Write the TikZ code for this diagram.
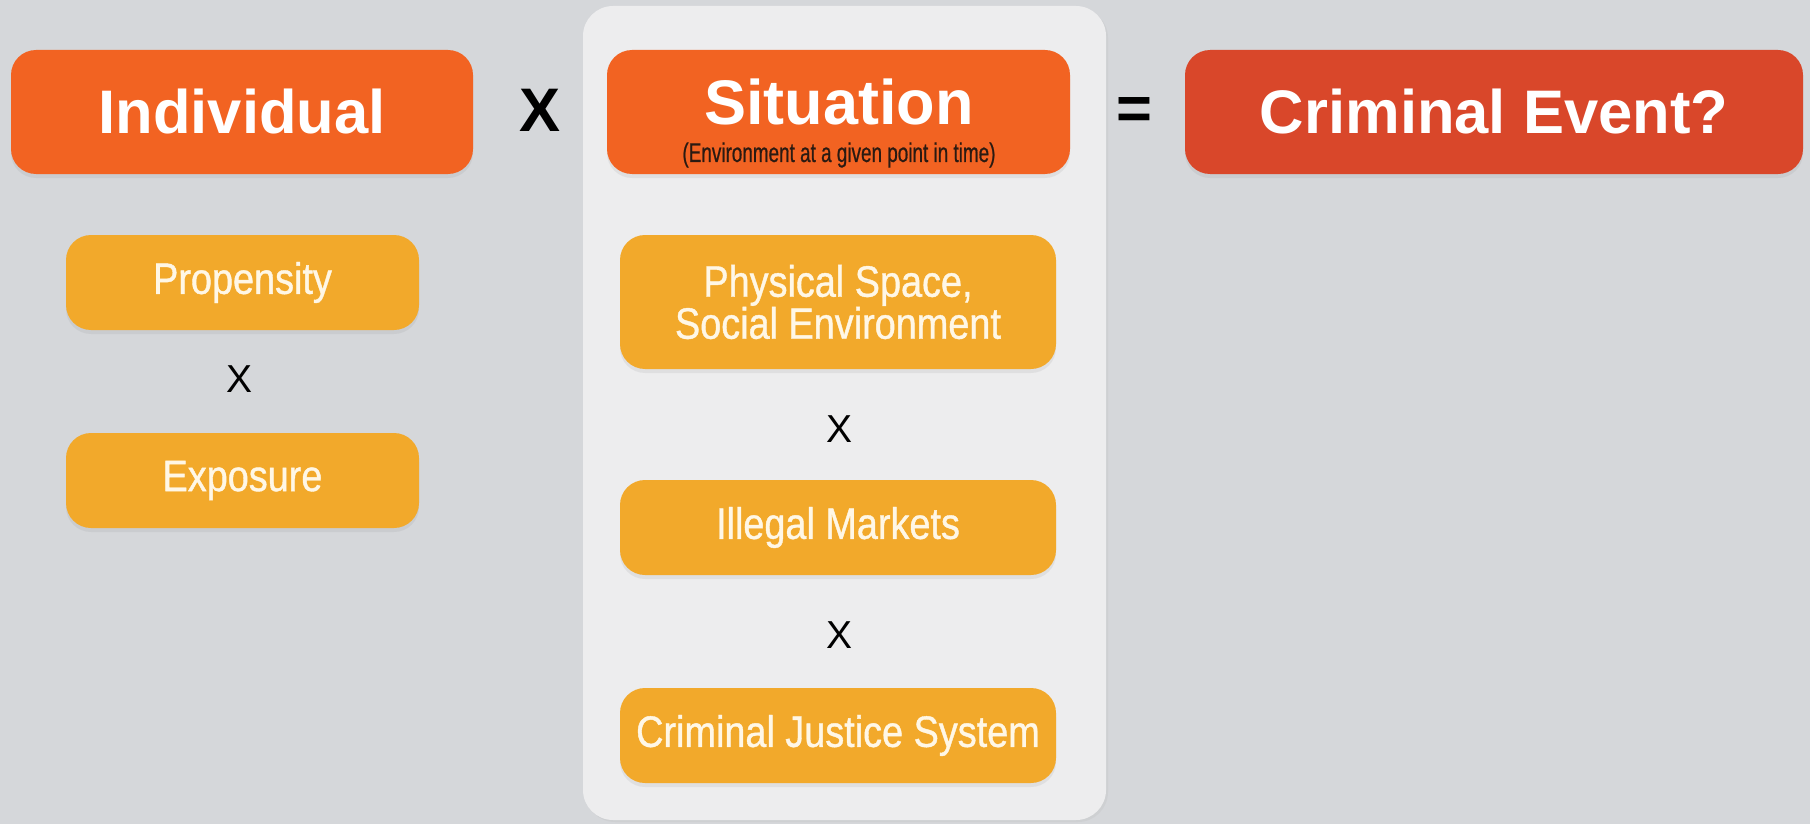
\documentclass[tikz,border=0pt]{standalone}
\usepackage{fontspec}
\setmainfont{Liberation Sans}
\newfontfamily\narrowfont[FakeStretch=0.86,FakeBold=0.9]{Liberation Sans}
\newfontfamily\tightfont[FakeStretch=0.70,FakeBold=0.6]{Liberation Sans}
\usetikzlibrary{shadows}

\definecolor{bggray}{HTML}{D5D7DA}
\definecolor{panelgray}{HTML}{EDEDEE}
\definecolor{headorange}{HTML}{F26322}
\definecolor{eventred}{HTML}{D9472A}
\definecolor{factoryellow}{HTML}{F2A92B}
\definecolor{cream}{HTML}{FFF7E6}
\definecolor{notebrown}{HTML}{2A1A12}

\tikzset{
  headbox/.style={rounded corners=12.5pt, fill=headorange, inner sep=0pt,
    minimum height=62pt, drop shadow={opacity=0.12, shadow xshift=0pt, shadow yshift=-2pt}},
  headtext/.style={text=white, font=\bfseries\fontsize{30.75}{36}\selectfont},
  factorbox/.style={rounded corners=12.5pt, fill=factoryellow, inner sep=0pt,
    text=cream, align=center, font=\narrowfont\fontsize{22}{21}\selectfont,
    minimum height=47.5pt, drop shadow={opacity=0.12, shadow xshift=0pt, shadow yshift=-2pt}},
  timessign/.style={font=\fontsize{19.5}{20}\selectfont},
}

\begin{document}
\begin{tikzpicture}[x=0.5pt,y=-0.5pt]
    % page and background panel of the situation column
    \fill[bggray] (0,0) rectangle (1810,824);
    \useasboundingbox (0,0) rectangle (1810,824);
    \fill[panelgray, rounded corners=15pt, drop shadow={opacity=0.08, shadow xshift=1pt, shadow yshift=-1pt}] (583,6) rectangle (1106,820);

    % top row: individual x situation = event
    \node[headbox, headtext, minimum width=231pt] (indiv) at (242,112) {Individual};
    \node[headtext, text=black] (timesmain) at (540,110) {X};
    \node[headbox, minimum width=231.5pt] (sit) at (838.5,112) {};
    \node[headtext, font=\bfseries\fontsize{31.5}{36}\selectfont] (sittitle) at (839,102) {Situation};
    \node[text=notebrown, font=\tightfont\fontsize{13.5}{14}\selectfont] (sitnote) at (839,155) {(Environment at a given point in time)};
    \node[headtext, text=black] (equals) at (1134,114) {=};
    \node[headbox, headtext, fill=eventred, minimum width=309pt] (event) at (1494,112) {Criminal Event?};

    % individual factors
    \node[factorbox, minimum width=176.5pt] (prop) at (242.5,282.5) {Propensity};
    \node[timessign] (timesa) at (240,379) {X};
    \node[factorbox, minimum width=176.5pt] (expo) at (242.5,480.5) {Exposure};

    % situational factors
    \node[factorbox, minimum width=218pt, minimum height=67pt] (phys) at (838,302) {Physical Space,\\Social Environment};
    \node[timessign] (timesb) at (839,429) {X};
    \node[factorbox, minimum width=218pt] (illegal) at (838,527.5) {Illegal Markets};
    \node[timessign] (timesc) at (839,635) {X};
    \node[factorbox, minimum width=218pt] (cjs) at (838,735.5) {Criminal Justice System};
\end{tikzpicture}
\end{document}
